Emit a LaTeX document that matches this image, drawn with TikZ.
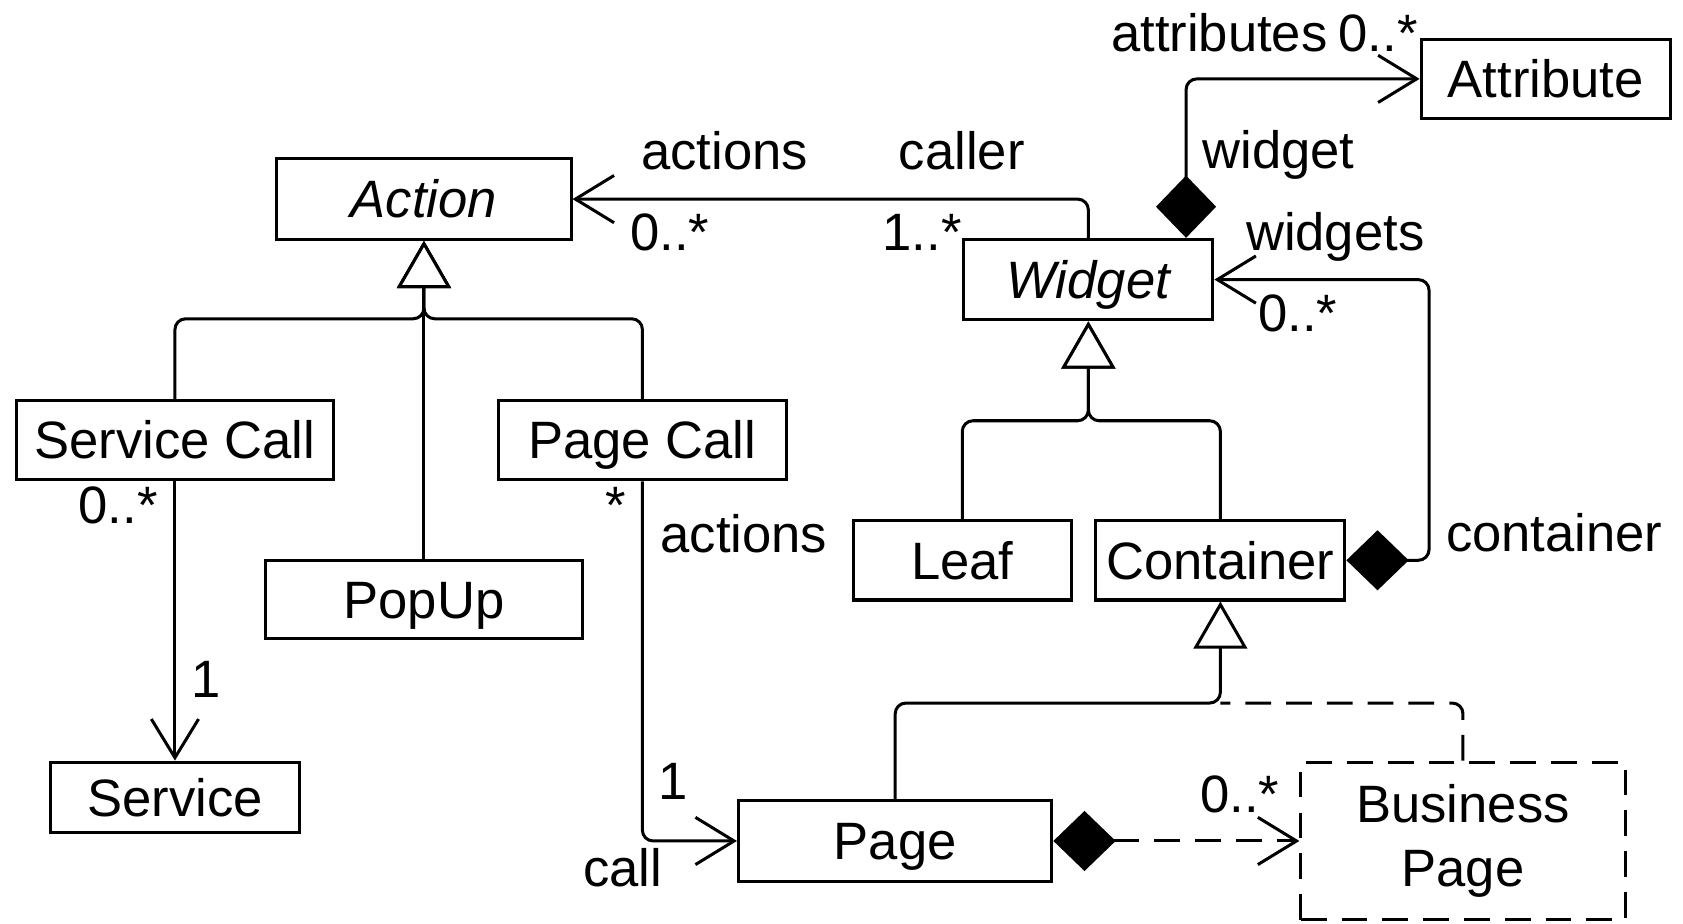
\documentclass[tikz,border=0pt]{standalone}
\usepackage{fontspec}
\setmainfont{Liberation Sans}
\usetikzlibrary{arrows.meta,calc}
\begin{document}
\begin{tikzpicture}[x=0.5pt,y=-0.5pt,
  every node/.style={font=\fontsize{24.5}{30}\selectfont},
  box/.style={draw, line width=1.4pt, inner sep=0pt, text height=17.5pt, text depth=0pt, align=center, fill=white},
  dbox/.style={draw, line width=1.4pt, inner sep=0pt, align=center, dash pattern=on 12pt off 7pt},
  lbl/.style={inner sep=0pt, anchor=base},
  conn/.style={line width=1.4pt, rounded corners=5pt},
  dconn/.style={conn, dash pattern=on 12pt off 7pt},
  barb/.tip={Straight Barb[length=18pt,width=22pt]},
  dia/.tip={Diamond[length=29pt,width=28pt]},
  tri/.tip={Triangle[length=22pt,width=25pt,fill=white]},
  assoc/.style={conn, -barb},
  comp/.style={conn, dia-barb},
  gen/.style={conn, -tri}
]
\useasboundingbox (0,0) rectangle (1568,860);

% nodes
\node[box, minimum width=137pt, minimum height=37.5pt] (action) at (395,185.5) {\itshape Action};
\node[box, minimum width=116pt, minimum height=37.5pt] (widget) at (1014,260.5) {\itshape Widget};
\node[box, minimum width=116pt, minimum height=36.5pt] (attribute) at (1440,73.5) {Attribute};
\node[box, minimum width=148pt, minimum height=37pt] (servicecall) at (163,410) {Service Call};
\node[box, minimum width=134.5pt, minimum height=37pt] (pagecall) at (598.5,410) {Page Call};
\node[box, minimum width=148pt, minimum height=36.5pt] (popup) at (395,558.5) {PopUp};
\node[box, minimum width=116pt, minimum height=33pt] (service) at (163,743) {Service};
\node[box, minimum width=101.5pt, minimum height=37pt] (leaf) at (896.5,522) {Leaf};
\node[box, minimum width=116pt, minimum height=37pt] (container) at (1137,522) {Container};
\node[box, minimum width=146pt, minimum height=37.5pt] (page) at (834,783.5) {Page};
\node[dbox, minimum width=151pt, minimum height=73.5pt] (bp) at (1363,783.5) {Business\\Page};

% junctions
\coordinate (jA) at (395,297);
\coordinate (jW) at (1014,392);
\coordinate (jC) at (1137,655);

% generalizations
\draw[gen] (servicecall.north) |- (jA) -- (action.south);
\draw[gen] (pagecall.north) |- (jA) -- (action.south);
\draw[gen] (popup.north) -- (action.south);
\draw[gen] (leaf.north) |- (jW) -- (widget.south);
\draw[gen] (container.north) |- (jW) -- (widget.south);
\draw[dconn] (bp.north) |- (jC);
\draw[gen] (page.north) |- (jC) -- (container.south);

% associations
\draw[assoc] (widget.north) |- (action.east);
\draw[comp] ([xshift=45.5pt]widget.north) |- (attribute.west);
\draw[comp] (container.east) -- ++(77,0) |- (widget.east);
\draw[assoc] (servicecall.south) -- (service.north);
\draw[assoc] (pagecall.south) |- (page.west);
\draw[comp, dash pattern=on 12pt off 7pt] (page.east) -- (bp.west);

% labels
\node[lbl] (l1) at (675,158) {actions};
\node[lbl] (l2) at (896,158) {caller};
\node[lbl] (l3) at (624,233) {0..*};
\node[lbl] (l4) at (859,233) {1..*};
\node[lbl] (l5) at (1136,48) {attributes};
\node[lbl] (l6) at (1284,48) {0..*};
\node[lbl] (l7) at (1191,157) {widget};
\node[lbl] (l8) at (1244,233) {widgets};
\node[lbl] (l9) at (1209,309) {0..*};
\node[lbl] (l10) at (1448,514) {container};
\node[lbl] (l11) at (110,488) {0..*};
\node[lbl] (l12) at (192,650) {1};
\node[lbl] (l13) at (574,488) {*};
\node[lbl] (l14) at (693,515) {actions};
\node[lbl] (l15) at (627,745) {1};
\node[lbl] (l16) at (580,826) {call};
\node[lbl] (l17) at (1155,757) {0..*};
\end{tikzpicture}
\end{document}
